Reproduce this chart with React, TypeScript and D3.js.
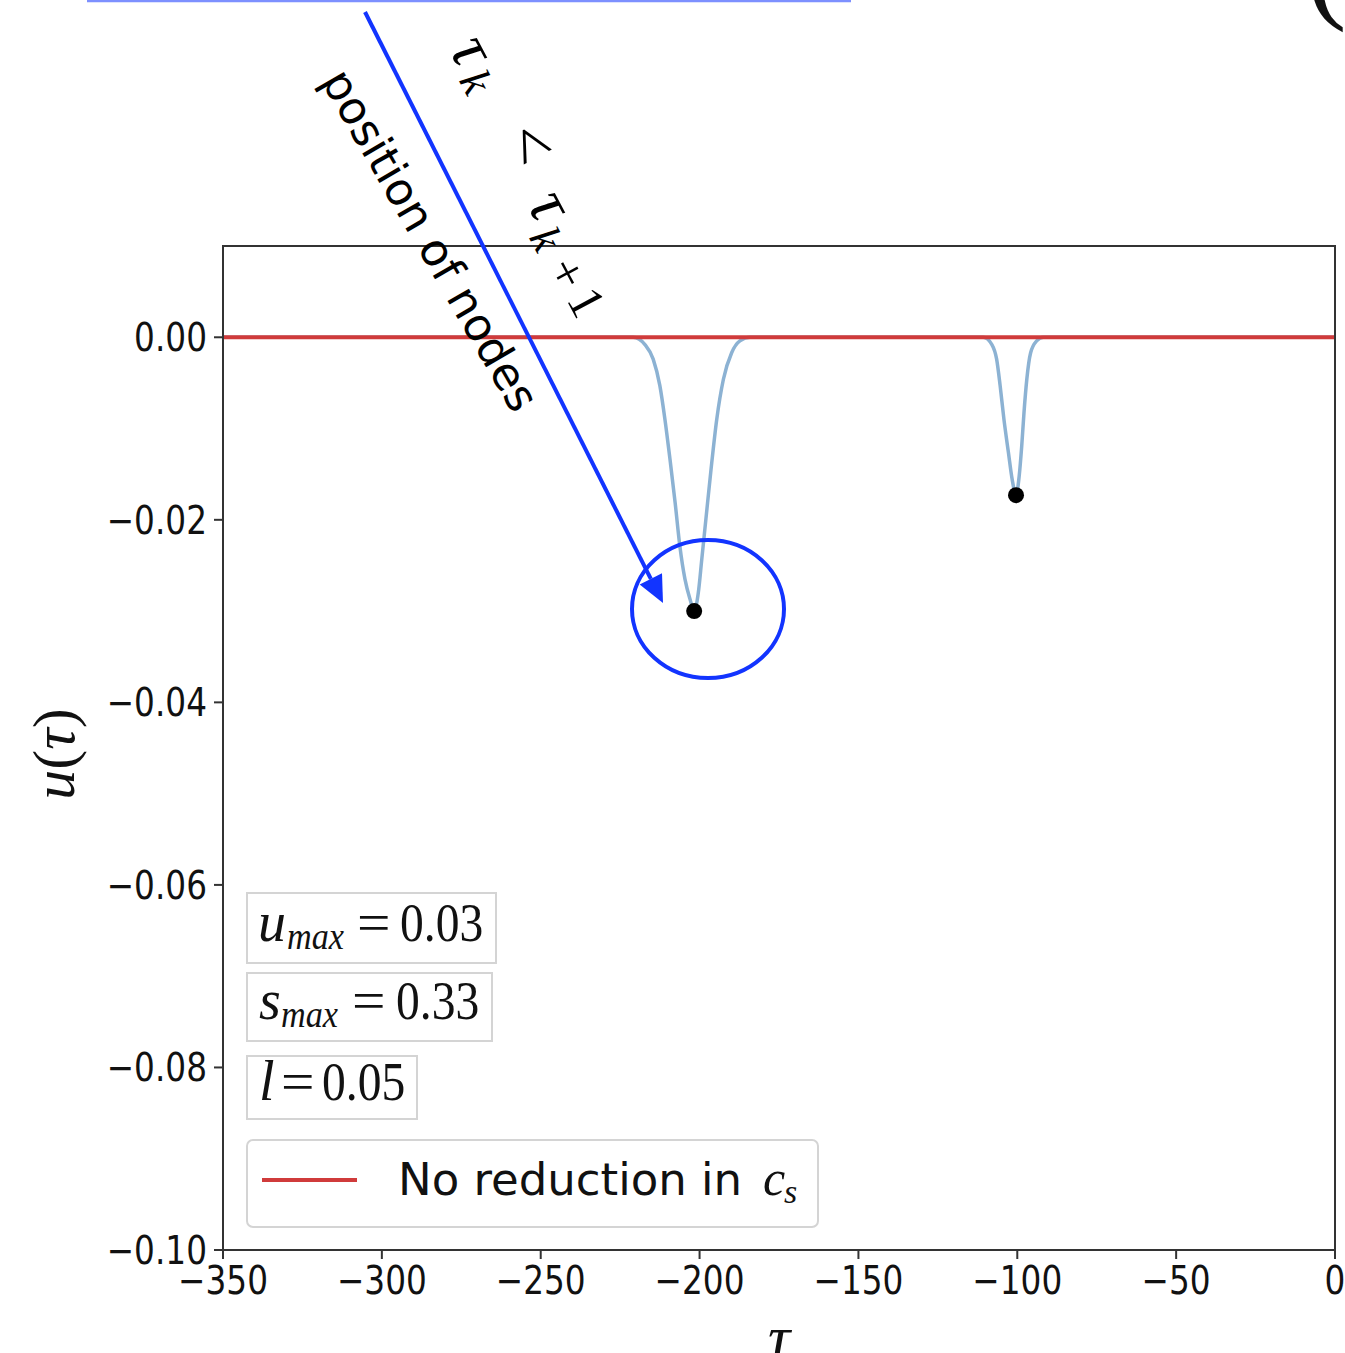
import React from 'react';
import * as d3 from 'd3';

const W = 1345;
const H = 1353;

// u(τ) sampled along τ: a flat baseline with two localized dips
const tauSamples = [
  -350, -220.9, -217.2, -214.6, -212.5, -210.9, -209.3, -207.7, -206.2, -204.6, -203.0,
  -201.7, -200.4, -199.3, -198.0, -196.4, -194.6, -192.5, -189.9, -187.3, -184.1,
  -110.7, -108.0, -106.5, -105.4, -104.2, -102.8, -101.6, -100.4, -99.4, -98.6, -97.9,
  -97.0, -95.8, -93.9, -91.8, 0,
];
const uSamples = [
  0, 0, -0.0008, -0.0024, -0.0053, -0.009, -0.0134, -0.0181, -0.0229, -0.0265, -0.0287,
  -0.03, -0.028, -0.0243, -0.0199, -0.0145, -0.009, -0.0046, -0.0017, -0.0004, 0,
  0, -0.0008, -0.0024, -0.0053, -0.009, -0.0126, -0.0156, -0.0173, -0.0152, -0.0119, -0.0083,
  -0.0046, -0.0017, -0.0004, 0, 0,
];

// node positions (minima of the dips)
const nodeTau = [-201.7, -100.4];
const nodeU = [-0.03, -0.0173];

// reference line: no reduction in c_s
const baseTau = [-350, 0];
const baseU = [0, 0];

const xTicks = [-350, -300, -250, -200, -150, -100, -50, 0];
const yTicks = [0, -0.02, -0.04, -0.06, -0.08, -0.1];

// parameter boxes
const paramSymbols = ['u', 's', 'l'];
const paramSubs = ['max', 'max', ''];
const paramValues = ['0.03', '0.33', '0.05'];

const legendLabel = 'No reduction in ';

const SANS = 'DejaVu Sans';
const SERIF = 'Liberation Serif';

const minus = (s: string) => s.replace('-', '\u2212');

function ST(props: {
  x: number; y: number; sx?: number; size: number; family: string; italic?: boolean;
  anchor?: string; children: React.ReactNode; fill?: string;
}) {
  const { x, y, sx = 1, size, family, italic, anchor = 'start', children, fill = '#111' } = props;
  return (
    <text
      transform={`translate(${x},${y}) scale(${sx},1)`}
      fontSize={size}
      fontFamily={family}
      fontStyle={italic ? 'italic' : 'normal'}
      textAnchor={anchor}
      fill={fill}
    >
      {children}
    </text>
  );
}

export default function App() {
  const x = d3.scaleLinear().domain([-350, 0]).range([223, 1335]);
  const y = d3.scaleLinear().domain([-0.1, 0.01]).range([1250, 246]);

  const curvePts = tauSamples.map((t, i) => [t, uSamples[i]] as [number, number]);
  const line = d3
    .line<[number, number]>()
    .x((d) => x(d[0]))
    .y((d) => y(d[1]))
    .curve(d3.curveMonotoneX);
  const basePts = baseTau.map((t, i) => [t, baseU[i]] as [number, number]);

  const fmtY = d3.format('.2f');

  // parameter box layout
  const boxes = [
    { x: 247, y: 893, w: 249, h: 70, base: 941, sym: 258, sub: 287, eq: 357, val: 400 },
    { x: 247, y: 973, w: 245, h: 68, base: 1019, sym: 259, sub: 281, eq: 352, val: 396 },
    { x: 247, y: 1056, w: 170, h: 63, base: 1100, sym: 259, sub: 0, eq: 281, val: 322 },
  ];

  // arrow geometry
  const a0: [number, number] = [365, 12];
  const tip: [number, number] = [663, 603];
  const dx = tip[0] - a0[0];
  const dy = tip[1] - a0[1];
  const len = Math.hypot(dx, dy);
  const ux = dx / len;
  const uy = dy / len;
  const headL = 27;
  const headW = 12.5;
  const bx = tip[0] - ux * headL;
  const by = tip[1] - uy * headL;
  const head = [
    [tip[0], tip[1]],
    [bx - uy * headW, by + ux * headW],
    [bx + uy * headW, by - ux * headW],
  ]
    .map((p) => p.join(','))
    .join(' ');

  // rotated inequality τ_k < τ_{k+1}
  const ineq = [
    { t: 'τ', cx: 474, cy: 49, size: 66, it: true },
    { t: 'k', cx: 476, cy: 82, size: 44, it: true },
    { t: '<', cx: 531, cy: 143, size: 66, it: false },
    { t: 'τ', cx: 552, cy: 204, size: 66, it: true },
    { t: 'k', cx: 546, cy: 239, size: 44, it: true },
    { t: '+', cx: 568, cy: 273, size: 50, it: false },
    { t: '1', cx: 587, cy: 302, size: 50, it: false },
  ];

  return (
    <svg
      width={W}
      height={H}
      viewBox={`0 0 ${W} ${H}`}
      style={{ position: 'absolute', left: 0, top: 0, background: '#fff' }}
    >
      <rect x={0} y={0} width={W} height={H} fill="#fff" />

      {/* top rule and partial bracket */}
      <line x1={87} y1={1} x2={851} y2={1} stroke="#7d90ff" strokeWidth={2.5} />
      <ST x={1306} y={6} size={122} family={SERIF}>(</ST>

      {/* u(τ) curve */}
      <path d={line(curvePts) || ''} fill="none" stroke="#8cb2d3" strokeWidth={3.5} />
      {/* no-reduction line */}
      <path
        d={d3.line<[number, number]>().x((d) => x(d[0])).y((d) => y(d[1]))(basePts) || ''}
        fill="none"
        stroke="#d03b3b"
        strokeWidth={4}
      />
      {nodeTau.map((t, i) => (
        <circle key={i} cx={x(t)} cy={y(nodeU[i])} r={8} fill="#000" />
      ))}

      {/* frame */}
      <rect x={223} y={246} width={1112} height={1004} fill="none" stroke="#333" strokeWidth={2} />

      {/* x ticks */}
      {xTicks.map((t) => (
        <g key={t}>
          <line x1={x(t)} x2={x(t)} y1={1250} y2={1259} stroke="#333" strokeWidth={2} />
          <ST x={x(t)} y={1294} sx={0.84} size={39} family={SANS} anchor="middle">
            {minus(String(t))}
          </ST>
        </g>
      ))}
      {/* y ticks */}
      {yTicks.map((t) => (
        <g key={t}>
          <line x1={214} x2={223} y1={y(t)} y2={y(t)} stroke="#333" strokeWidth={2} />
          <ST x={207} y={y(t) + 14} sx={0.84} size={39} family={SANS} anchor="end">
            {minus(fmtY(t))}
          </ST>
        </g>
      ))}

      {/* axis labels */}
      <text
        transform="translate(74,754) rotate(-90)"
        fontFamily={SERIF}
        fontSize={60}
        textAnchor="middle"
        fill="#111"
      >
        <tspan fontStyle="italic">u</tspan>
        <tspan>(</tspan>
        <tspan fontStyle="italic">τ</tspan>
        <tspan>)</tspan>
      </text>
      <ST x={779} y={1358} size={62} family={SERIF} italic anchor="middle">τ</ST>

      {/* parameter boxes */}
      {boxes.map((b, i) => (
        <g key={i}>
          <rect x={b.x} y={b.y} width={b.w} height={b.h} fill="#fff" fillOpacity={0.8} stroke="#d4d4d4" strokeWidth={2} />
          <ST x={b.sym} y={b.base} sx={1} size={56} family={SERIF} italic>{paramSymbols[i]}</ST>
          {paramSubs[i] && (
            <ST x={b.sub} y={b.base + 8} sx={0.9} size={38} family={SERIF} italic>{paramSubs[i]}</ST>
          )}
          <ST x={b.eq} y={b.base} sx={1.1} size={54} family={SERIF}>=</ST>
          <ST x={b.val} y={b.base} sx={0.88} size={54} family={SERIF}>{paramValues[i]}</ST>
        </g>
      ))}

      {/* legend */}
      <rect x={247} y={1140} width={571} height={87} rx={6} fill="#fff" fillOpacity={0.8} stroke="#d4d4d4" strokeWidth={2} />
      <line x1={262} x2={357} y1={1180} y2={1180} stroke="#d03b3b" strokeWidth={4} />
      <ST x={398} y={1195} size={45} family={SANS}>{legendLabel}</ST>
      <ST x={763} y={1195} size={50} family={SERIF} italic>c</ST>
      <ST x={784} y={1203} size={34} family={SERIF} italic>s</ST>

      {/* annotations */}
      <text
        transform="translate(417,248) rotate(60)"
        fontFamily={SANS}
        fontSize={45}
        textAnchor="middle"
        fill="#000"
      >
        position of nodes
      </text>
      {ineq.map((g, i) => (
        <text
          key={i}
          transform={`translate(${g.cx},${g.cy}) rotate(62)`}
          fontFamily={SERIF}
          fontSize={g.size}
          fontStyle={g.it ? 'italic' : 'normal'}
          textAnchor="middle"
          dominantBaseline="central"
          fill="#000"
        >
          {g.t}
        </text>
      ))}
      <line x1={a0[0]} y1={a0[1]} x2={bx} y2={by} stroke="#1234ff" strokeWidth={4} />
      <polygon points={head} fill="#1234ff" />
      <ellipse cx={708} cy={609} rx={76} ry={69} fill="none" stroke="#1234ff" strokeWidth={4} />
    </svg>
  );
}
